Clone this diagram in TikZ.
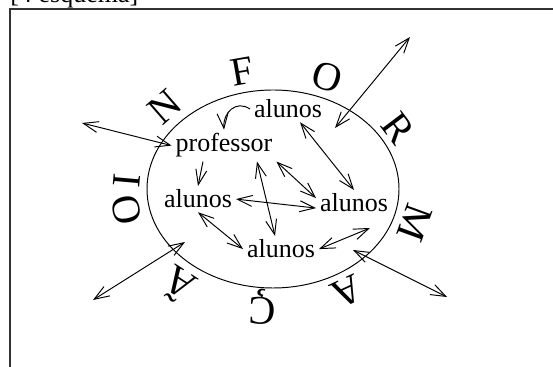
\documentclass[tikz,border=0pt]{standalone}
\usepackage{fontspec}
\setmainfont{Liberation Serif}
\usetikzlibrary{arrows.meta}

\begin{document}
\begin{tikzpicture}[>={Straight Barb[length=3mm,width=2.2mm]}, line width=0.55pt,
  every node/.style={font=\fontsize{14.8}{17}\selectfont, inner sep=2pt},
  word/.style={font=\fontsize{23}{27}\selectfont, inner sep=0pt},
  role/.style={anchor=base}]
\useasboundingbox (0,0) rectangle (11.06,7.34);

% Frame and caption
\draw[black!80, line width=0.8pt] (0.2,-0.2) |- (11.3,7.16);
\node[anchor=base west, inner sep=0pt] (caption) at (0.2,7.28) {[4 esquema]};

% Ellipse
\draw (5.46,3.56) ellipse [x radius=2.52, y radius=1.98];

% Word written round the ellipse
\foreach \ch/\x/\y/\r [count=\i] in {I/2.54/3.72/85, N/3.30/5.20/41, F/4.84/5.90/10,
    O/6.54/5.80/-17, R/7.96/4.78/-53, M/8.30/2.88/-110, A/6.94/1.50/-155,
    Ç/5.26/1.20/177, Ã/3.56/1.62/147, O/2.54/3.14/102} {
  \node[word, rotate=\r] (letter\i) at (\x,\y) {\ch};
}

% Roles
\node[role] (alunosT) at (5.76,4.98) {alunos};
\node[role] (prof) at (4.48,4.30) {professor};
\node[role] (alunosL) at (3.96,3.18) {alunos};
\node[role] (alunosR) at (7.08,3.10) {alunos};
\node[role] (alunosB) at (5.62,2.18) {alunos};

% Free ends
\coordinate (neOut) at (8.20,6.60);
\coordinate (neIn) at (6.70,4.78);
\coordinate (wOut) at (1.64,4.88);
\coordinate (swOut) at (1.86,1.34);
\coordinate (swIn) at (3.70,2.50);
\coordinate (seIn) at (7.06,2.34);
\coordinate (seOut) at (8.94,1.40);
\coordinate (inR) at (7.40,2.78);

% Exchanges inside
\draw[->] (alunosT.west) to[out=145, in=95, looseness=1.3] (prof.north);
\draw[->] ([xshift=-4.2mm]prof.south) -- (alunosL.north);
\draw[<->] ([xshift=6.6mm]prof.south) -- ([xshift=-1.2mm]alunosB.north);
\draw[<->] (prof.south east) -- ([yshift=1mm]alunosR.west);
\draw[<->] (alunosL.east) -- ([yshift=-1mm]alunosR.west);
\draw[<->] (alunosL.south) -- (alunosB.west);
\draw[<->] (alunosB.east) -- (inR);
\draw[<->] ([xshift=2.4mm]alunosT.south) -- (alunosR.north);

% Exchanges with the outside
\draw[<->] (wOut) -- (prof.west);
\draw[<->] (neOut) -- (neIn);
\draw[<->] (swOut) -- (swIn);
\draw[<->] (seIn) -- (seOut);

\end{tikzpicture}
\end{document}
